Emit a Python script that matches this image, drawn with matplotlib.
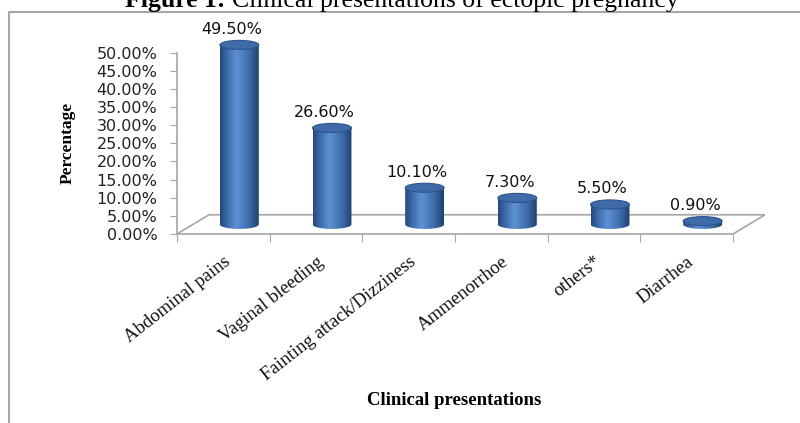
import numpy as np
import matplotlib
matplotlib.use('Agg')
import matplotlib.pyplot as plt
from matplotlib.colors import LinearSegmentedColormap
from matplotlib.lines import Line2D
from matplotlib.patches import Ellipse, PathPatch
from matplotlib.path import Path


# Chart data
categories = ['Abdominal pains', 'Vaginal bleeding', 'Fainting attack/Dizziness',
              'Ammenorrhoe', 'others*', 'Diarrhea']
percent    = [49.5, 26.6, 10.1, 7.3, 5.5, 0.9]
y_ticks    = [0, 5, 10, 15, 20, 25, 30, 35, 40, 45, 50]

# Layout parameters
width_px, height_px = 800, 423
depth_x   = 0.345      # floor depth in category units
depth_y   = 5.3        # floor depth in percent units
bar_w     = 0.42
cap_h     = 2.5
grey      = '#a6a6a6'
serif     = 'Liberation Serif'
sans      = 'DejaVu Sans'

body_cmap = LinearSegmentedColormap.from_list(
    'cyl', [(0.0, '#24487c'), (0.15, '#3a66a4'), (0.42, '#5e90d4'),
            (0.75, '#3e6cab'), (1.0, '#1f426f')])


fig = plt.figure(figsize=(width_px / 100, height_px / 100), dpi=100)
fig.patch.set_facecolor('white')

# Axes placed so 0% sits at the front floor edge
left, right, bottom, top = 177, 765, 234, 30
ax = fig.add_axes([left / width_px, 1 - bottom / height_px,
                   (right - left) / width_px, (bottom - top) / height_px])
ax.set_xlim(0, len(categories) + depth_x)
ax.set_ylim(0, (bottom - top) / 3.626)
ax.patch.set_alpha(0)

# Axis styling
for side in ['top', 'right']:
    ax.spines[side].set_visible(False)
ax.spines['left'].set_bounds(0, 50)
ax.spines['bottom'].set_bounds(0, len(categories))
for side in ['left', 'bottom']:
    ax.spines[side].set_color(grey)
    ax.spines[side].set_linewidth(1.2)
ax.set_yticks(y_ticks)
ax.set_yticklabels(['%.2f%%' % v for v in y_ticks], fontsize=11.5,
                   family=sans, color='#222222')
ax.set_xticks(range(len(categories) + 1))
ax.set_xticklabels([])
ax.tick_params(axis='y', direction='out', length=5, color=grey, pad=9)
ax.tick_params(axis='x', direction='out', length=6, color=grey)

# 3D floor
n = len(categories)
floor_x = [0, depth_x, n + depth_x, n]
floor_y = [0, depth_y, depth_y, 0]
ax.plot(floor_x, floor_y, color=grey, lw=1.2, solid_joinstyle='miter')

# Cylinders
theta = np.linspace(np.pi, 2 * np.pi, 60)
for i, (name, val) in enumerate(zip(categories, percent)):
    xc = i + 0.5 + depth_x / 2
    yb = depth_y / 2
    yt = yb + val
    # body outline: top edge then lower half ellipse
    arc_x = xc + bar_w / 2 * np.cos(theta[::-1])
    arc_y = yb + cap_h / 2 * np.sin(theta[::-1])
    verts = [(xc - bar_w / 2, yt), (xc + bar_w / 2, yt)]
    verts += list(zip(arc_x, arc_y))
    verts += [(xc - bar_w / 2, yt)]
    body = Path(verts, closed=True)
    clip = PathPatch(body, transform=ax.transData, facecolor='none',
                     edgecolor='none')
    ax.add_patch(clip)
    grad = ax.imshow(np.linspace(0, 1, 64).reshape(1, -1), cmap=body_cmap,
                     aspect='auto', interpolation='bicubic',
                     extent=(xc - bar_w / 2, xc + bar_w / 2,
                             yb - cap_h / 2, yt), zorder=3)
    grad.set_clip_path(clip)
    cap = Ellipse((xc, yt), bar_w, cap_h, facecolor='#3f6ba8',
                  edgecolor='#2d548c', lw=0.8, zorder=4)
    ax.add_patch(cap)
    ax.text(xc - 0.08, yt + cap_h / 2 + 1.0, '%.2f%%' % val,
            ha='center', va='bottom', fontsize=11.5, family=sans,
            color='#111111', zorder=5)
    ax.text(i + 0.5, -5.3, name, rotation=38, rotation_mode='anchor',
            ha='right', va='top', fontsize=13.5, family=serif,
            color='#111111')

ax.set_xlim(0, n + depth_x)

# Axis titles
fig.text(68 / width_px, 1 - 143 / height_px, 'Percentage', rotation=90,
         ha='center', va='center', fontsize=12.5, family=serif,
         fontweight='bold')
fig.text(454 / width_px, 1 - 400 / height_px, 'Clinical presentations',
         ha='center', va='center', fontsize=13.5, family=serif,
         fontweight='bold')

# Figure caption, bold lead followed by plain text
lead = fig.text(125 / width_px, 1 - 7 / height_px, 'Figure 1: ',
                ha='left', va='baseline', fontsize=18.5, family=serif,
                fontweight='bold')
renderer = fig.canvas.get_renderer()
lead_box = lead.get_window_extent(renderer)
fig.text(lead_box.x1 / width_px, 1 - 7 / height_px,
         'Clinical presentations of ectopic pregnancy',
         ha='left', va='baseline', fontsize=18.5, family=serif)

# Outer frame
fig.add_artist(Line2D([9 / width_px, 9 / width_px, 1],
                      [0, 1 - 12 / height_px, 1 - 12 / height_px],
                      color=grey, lw=1.5, transform=fig.transFigure))

fig.savefig('out.png', dpi=100)
